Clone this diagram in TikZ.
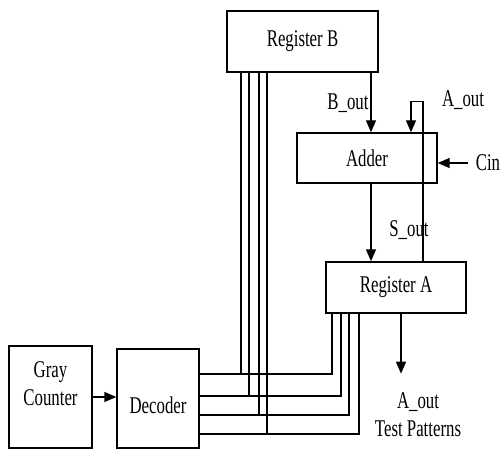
\documentclass[tikz,border=0pt]{standalone}
\usepackage{fontspec}
\setmainfont{Liberation Serif}[FakeStretch=0.7]
\usepackage{tikz}
\usetikzlibrary{positioning, arrows.meta, calc}

\begin{document}
\begin{tikzpicture}[x=1pt,y=1pt]
    \tikzset{box/.style={draw,line width=1.4pt,inner sep=0pt}, lbl/.style={inner sep=0pt,align=center,font=\fontsize{24}{28}\selectfont}, wire/.style={line width=1.4pt}, arr/.style={wire,-{Triangle[length=12pt,width=10pt]}}}
    \useasboundingbox (0,0) rectangle (503,449);
    % blocks
    \node[box,minimum width=151,minimum height=61] (regB) at (302.5,407.5) {};
    \node[lbl] at (regB) {Register B};
    \node[box,minimum width=140,minimum height=50] (adder) at (367,291) {};
    \node[lbl] at (adder) {Adder};
    \node[box,minimum width=140,minimum height=51] (regA) at (396,161.5) {};
    \node[lbl] at (regA) {Register A};
    \node[box,minimum width=83,minimum height=102] (gray) at (50.5,52) {};
    \node[lbl] at ([yshift=13.5]gray.center) {Gray\\Counter};
    \node[box,minimum width=82,minimum height=99] (dec) at (158,50.5) {};
    \node[lbl] at ([yshift=-7]dec.center) {Decoder};
    % signal labels
    \node[lbl] (bout) at (348,346) {B\_out};
    \node[lbl] (aoutl) at (463,349) {A\_out};
    \node[lbl] (sout) at (409,219) {S\_out};
    \node[lbl] (cin) at (488,286) {Cin};
    \node[lbl] (aout) at (418,34.5) {A\_out\\Test Patterns};
    \coordinate (bx) at ([xshift=68.5]regB.south);
    \coordinate (loop) at ([xshift=44,yshift=31]adder.north);
    \coordinate (ao) at ([xshift=5]regA.south);
    \coordinate (aoend) at ([yshift=-60]ao);
    % connections
    \draw[arr] (gray.east) -- (gray.east -| dec.west);
    \draw[arr] (bx) -- (bx |- adder.north);
    \draw[arr] (bx |- adder.south) -- (bx |- regA.north);
    \draw[arr] ([xshift=27]regA.north) |- (loop) -- (loop |- adder.north);
    \draw[arr,shorten <=8pt] (cin.west) -- (cin.west -| adder.east);
    \draw[arr] (ao) -- (aoend);
    \foreach \dy/\ax/\bx in {24.5/-64/-61.5, 2.5/-55/-53.5, -16.5/-47/-43.5, -35.5/-37/-35.5} {
      \draw[wire] ([yshift=\dy]dec.east) -| ([xshift=\ax]regA.south);
      \draw[wire] ([xshift=\bx]regB.south) |- ([yshift=\dy]dec.east);
    }
\end{tikzpicture}
\end{document}
